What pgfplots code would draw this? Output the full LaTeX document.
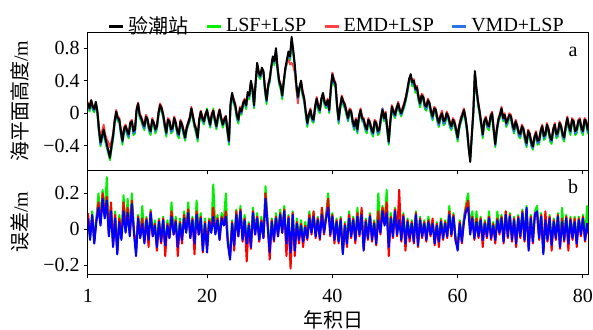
\documentclass[border=0pt]{standalone}
\usepackage{fontspec}
\setmainfont{Liberation Serif}
\newfontfamily\cjk{Noto Sans CJK SC}
\usepackage{pgfplots}
\usepackage{pgfplotstable}
\pgfplotsset{compat=1.18}

\definecolor{lsfgreen}{rgb}{0.0,0.95,0.0}
\definecolor{emdred}{rgb}{1.0,0.25,0.25}
\definecolor{vmdblue}{rgb}{0.18,0.45,0.90}
\definecolor{errred}{rgb}{1.0,0.0,0.0}
\definecolor{errblue}{rgb}{0.0,0.0,1.0}

% observed sea level and the three reconstructions (m), quarter-day steps
\pgfplotstableread{
d obs lsf emd vmd
1.00 0.12 0.09 0.14 0.10
1.25 0.06 0.02 0.08 0.04
1.50 0.16 0.13 0.16 0.15
1.75 0.08 0.04 0.10 0.06
2.00 0.05 0.01 0.07 0.03
2.25 0.14 0.11 0.13 0.12
2.50 0.02 -0.02 0.04 0.00
2.75 -0.20 -0.25 -0.16 -0.23
3.00 -0.36 -0.41 -0.32 -0.39
3.25 -0.28 -0.32 -0.22 -0.31
3.50 -0.20 -0.24 -0.14 -0.22
3.75 -0.30 -0.35 -0.26 -0.33
4.00 -0.38 -0.43 -0.32 -0.41
4.25 -0.46 -0.50 -0.36 -0.48
4.50 -0.55 -0.58 -0.42 -0.53
4.75 -0.40 -0.45 -0.34 -0.43
5.00 -0.28 -0.33 -0.25 -0.31
5.25 -0.10 -0.14 -0.08 -0.12
5.50 0.02 -0.01 0.04 0.00
5.75 -0.06 -0.10 -0.04 -0.08
6.00 -0.08 -0.12 -0.06 -0.10
6.25 -0.22 -0.27 -0.20 -0.25
6.50 -0.34 -0.39 -0.32 -0.36
6.75 -0.20 -0.24 -0.17 -0.22
7.00 -0.16 -0.20 -0.14 -0.18
7.25 -0.22 -0.27 -0.20 -0.25
7.50 -0.26 -0.31 -0.24 -0.29
7.75 -0.12 -0.16 -0.10 -0.14
8.00 -0.10 -0.13 -0.08 -0.11
8.25 -0.22 -0.27 -0.20 -0.25
8.50 -0.20 -0.25 -0.18 -0.23
8.75 0.04 0.00 0.06 0.02
9.00 0.12 0.09 0.13 0.10
9.25 -0.02 -0.06 0.00 -0.04
9.50 -0.06 -0.10 -0.04 -0.08
9.75 -0.12 -0.17 -0.10 -0.15
10.00 -0.16 -0.21 -0.15 -0.19
10.25 -0.04 -0.08 -0.02 -0.06
10.50 -0.08 -0.11 -0.06 -0.10
10.75 -0.18 -0.23 -0.16 -0.21
11.00 -0.22 -0.27 -0.20 -0.24
11.25 -0.08 -0.12 -0.06 -0.10
11.50 -0.12 -0.15 -0.11 -0.13
11.75 -0.20 -0.25 -0.18 -0.22
12.00 -0.16 -0.20 -0.14 -0.18
12.25 0.00 -0.04 0.02 -0.02
12.50 0.10 0.07 0.12 0.08
12.75 0.06 0.02 0.08 0.04
13.00 -0.02 -0.06 0.00 -0.04
13.25 -0.14 -0.19 -0.12 -0.17
13.50 -0.24 -0.29 -0.22 -0.26
13.75 -0.08 -0.12 -0.06 -0.10
14.00 -0.10 -0.13 -0.08 -0.12
14.25 -0.20 -0.25 -0.18 -0.23
14.50 -0.18 -0.23 -0.16 -0.21
14.75 -0.06 -0.10 -0.04 -0.08
15.00 -0.12 -0.15 -0.10 -0.13
15.25 -0.22 -0.27 -0.20 -0.25
15.50 -0.26 -0.31 -0.24 -0.28
15.75 -0.10 -0.14 -0.08 -0.12
16.00 -0.14 -0.17 -0.12 -0.16
16.25 -0.22 -0.27 -0.20 -0.25
16.50 -0.30 -0.34 -0.27 -0.31
16.75 -0.18 -0.22 -0.16 -0.20
17.00 -0.12 -0.15 -0.10 -0.14
17.25 -0.06 -0.10 -0.04 -0.08
17.50 0.06 0.03 0.08 0.05
17.75 -0.04 -0.08 -0.02 -0.06
18.00 -0.14 -0.18 -0.12 -0.16
18.25 -0.20 -0.25 -0.18 -0.23
18.50 -0.30 -0.35 -0.28 -0.32
18.75 -0.08 -0.12 -0.06 -0.10
19.00 0.02 -0.02 0.03 0.00
19.25 -0.06 -0.10 -0.04 -0.08
19.50 -0.10 -0.14 -0.08 -0.12
19.75 -0.02 -0.06 0.00 -0.04
20.00 0.04 0.06 0.02 0.03
20.25 -0.06 -0.10 -0.04 -0.08
20.50 -0.14 -0.18 -0.12 -0.16
20.75 -0.02 -0.06 0.00 -0.04
21.00 0.03 0.06 0.04 0.01
21.25 -0.08 -0.12 -0.06 -0.10
21.50 -0.16 -0.20 -0.14 -0.18
21.75 -0.04 -0.08 -0.02 -0.06
22.00 0.04 0.01 0.05 0.02
22.25 -0.06 -0.10 -0.04 -0.08
22.50 -0.14 -0.18 -0.12 -0.15
22.75 -0.08 -0.12 -0.06 -0.10
23.00 -0.04 -0.08 -0.03 -0.06
23.25 -0.20 -0.25 -0.18 -0.23
23.50 -0.34 -0.39 -0.31 -0.36
23.75 0.12 0.07 0.10 0.09
24.00 0.25 0.20 0.23 0.22
24.25 0.16 0.12 0.18 0.14
24.50 0.10 0.06 0.12 0.08
24.75 -0.02 -0.07 0.00 -0.05
25.00 -0.08 -0.13 -0.06 -0.10
25.25 0.06 0.02 0.08 0.04
25.50 0.02 -0.02 0.04 0.00
25.75 0.12 0.08 0.14 0.10
26.00 0.16 0.12 0.18 0.14
26.25 0.10 0.05 0.12 0.08
26.50 0.26 0.22 0.24 0.24
26.75 0.22 0.17 0.24 0.20
27.00 0.40 0.36 0.38 0.38
27.25 0.30 0.25 0.32 0.28
27.50 0.10 0.06 0.13 0.08
27.75 0.38 0.33 0.36 0.36
28.00 0.62 0.58 0.60 0.60
28.25 0.50 0.45 0.52 0.48
28.50 0.46 0.42 0.48 0.44
28.75 0.56 0.52 0.54 0.54
29.00 0.52 0.48 0.50 0.50
29.25 0.30 0.25 0.32 0.28
29.50 0.16 0.11 0.18 0.14
29.75 0.34 0.30 0.36 0.32
30.00 0.42 0.38 0.44 0.40
30.25 0.58 0.54 0.56 0.56
30.50 0.70 0.66 0.68 0.68
30.75 0.64 0.59 0.66 0.62
31.00 0.80 0.76 0.76 0.78
31.25 0.56 0.51 0.58 0.54
31.50 0.40 0.35 0.42 0.38
31.75 0.34 0.29 0.36 0.32
32.00 0.22 0.17 0.24 0.20
32.25 0.40 0.36 0.40 0.38
32.50 0.56 0.52 0.54 0.54
32.75 0.66 0.62 0.62 0.64
33.00 0.76 0.72 0.66 0.74
33.25 0.70 0.65 0.60 0.68
33.50 0.94 0.88 0.62 0.90
33.75 0.78 0.73 0.58 0.76
34.00 0.60 0.56 0.50 0.58
34.25 0.36 0.31 0.30 0.34
34.50 0.20 0.16 0.12 0.18
34.75 0.32 0.28 0.30 0.30
35.00 0.40 0.36 0.40 0.38
35.25 0.26 0.21 0.28 0.24
35.50 0.18 0.14 0.20 0.16
35.75 0.02 -0.03 0.04 0.00
36.00 -0.12 -0.17 -0.10 -0.14
36.25 -0.02 -0.06 0.00 -0.04
36.50 0.04 0.00 0.06 0.02
36.75 -0.06 -0.10 -0.04 -0.08
37.00 -0.08 -0.12 -0.06 -0.10
37.25 0.08 0.04 0.10 0.06
37.50 0.18 0.14 0.20 0.16
37.75 0.08 0.03 0.10 0.06
38.00 0.04 0.00 0.06 0.02
38.25 0.18 0.14 0.18 0.16
38.50 0.25 0.21 0.23 0.23
38.75 0.14 0.09 0.16 0.12
39.00 0.10 0.06 0.12 0.08
39.25 0.16 0.12 0.18 0.14
39.50 0.04 0.00 0.06 0.02
39.75 0.30 0.26 0.32 0.28
40.00 0.48 0.44 0.50 0.46
40.25 0.40 0.35 0.42 0.38
40.50 0.36 0.32 0.38 0.34
40.75 0.10 0.05 0.12 0.08
41.00 -0.08 -0.13 -0.06 -0.11
41.25 0.08 0.04 0.10 0.06
41.50 0.20 0.16 0.22 0.18
41.75 0.14 0.09 0.16 0.12
42.00 0.10 0.06 0.12 0.07
42.25 0.02 -0.03 0.04 0.00
42.50 -0.06 -0.10 -0.04 -0.09
42.75 0.04 0.00 0.06 0.02
43.00 0.02 -0.02 0.04 0.00
43.25 -0.10 -0.15 -0.08 -0.13
43.50 -0.16 -0.21 -0.14 -0.19
43.75 -0.08 -0.12 -0.06 -0.10
44.00 -0.20 -0.25 -0.18 -0.23
44.25 -0.04 -0.08 -0.02 -0.06
44.50 0.04 0.00 0.06 0.02
44.75 -0.06 -0.10 -0.04 -0.08
45.00 -0.08 -0.12 -0.06 -0.11
45.25 -0.16 -0.21 -0.14 -0.19
45.50 -0.20 -0.25 -0.18 -0.22
45.75 -0.08 -0.12 -0.06 -0.10
46.00 -0.12 -0.16 -0.10 -0.14
46.25 -0.20 -0.25 -0.18 -0.23
46.50 -0.24 -0.29 -0.22 -0.26
46.75 -0.10 -0.14 -0.08 -0.12
47.00 -0.12 -0.16 -0.10 -0.14
47.25 -0.22 -0.27 -0.20 -0.25
47.50 -0.20 -0.25 -0.18 -0.22
47.75 -0.06 -0.10 -0.04 -0.08
48.00 0.04 0.00 0.06 0.06
48.25 -0.06 -0.10 -0.04 -0.08
48.50 0.00 -0.04 0.02 -0.02
48.75 -0.18 -0.23 -0.16 -0.21
49.00 -0.35 -0.39 -0.32 -0.37
49.25 -0.10 -0.14 -0.08 -0.12
49.50 0.08 0.04 0.10 0.06
49.75 0.02 -0.02 0.04 0.00
50.00 -0.02 -0.06 0.00 -0.04
50.25 0.06 0.02 0.08 0.04
50.50 0.12 0.08 0.14 0.10
50.75 0.04 0.00 0.06 0.02
51.00 0.00 -0.04 0.02 -0.02
51.25 0.06 0.02 0.08 0.04
51.50 0.12 0.08 0.14 0.10
51.75 0.20 0.16 0.22 0.18
52.00 0.30 0.26 0.32 0.28
52.25 0.42 0.38 0.42 0.40
52.50 0.48 0.44 0.46 0.46
52.75 0.38 0.33 0.40 0.36
53.00 0.40 0.36 0.42 0.38
53.25 0.30 0.25 0.32 0.28
53.50 0.32 0.27 0.34 0.30
53.75 0.20 0.15 0.22 0.18
54.00 0.12 0.07 0.14 0.10
54.25 0.22 0.18 0.24 0.20
54.50 0.20 0.16 0.22 0.18
54.75 0.10 0.05 0.12 0.08
55.00 0.08 0.03 0.10 0.05
55.25 0.16 0.12 0.18 0.14
55.50 0.12 0.08 0.14 0.10
55.75 0.02 -0.03 0.04 0.00
56.00 -0.04 -0.09 -0.02 -0.07
56.25 0.06 0.02 0.08 0.04
56.50 0.04 0.00 0.06 0.02
56.75 -0.06 -0.11 -0.04 -0.09
57.00 -0.12 -0.17 -0.10 -0.15
57.25 -0.04 -0.08 -0.02 -0.06
57.50 0.00 -0.04 0.03 -0.02
57.75 -0.10 -0.15 -0.08 -0.13
58.00 -0.08 -0.13 -0.06 -0.11
58.25 0.00 -0.04 0.02 -0.02
58.50 -0.04 -0.08 -0.02 -0.06
58.75 -0.12 -0.17 -0.10 -0.15
59.00 -0.16 -0.21 -0.14 -0.19
59.25 -0.08 -0.12 -0.06 -0.10
59.50 -0.12 -0.16 -0.09 -0.14
59.75 -0.20 -0.25 -0.18 -0.23
60.00 -0.30 -0.35 -0.27 -0.32
60.25 -0.16 -0.20 -0.13 -0.18
60.50 -0.08 -0.12 -0.05 -0.10
60.75 -0.02 -0.06 0.00 -0.04
61.00 0.04 0.00 0.06 0.02
61.25 -0.06 -0.10 -0.04 -0.08
61.50 -0.20 -0.24 -0.18 -0.22
61.75 -0.42 -0.44 -0.40 -0.42
62.00 -0.60 -0.57 -0.55 -0.57
62.25 -0.28 -0.30 -0.26 -0.28
62.50 0.02 -0.02 0.04 0.00
62.75 0.52 0.47 0.49 0.49
63.00 0.30 0.25 0.30 0.28
63.25 0.14 0.09 0.16 0.12
63.50 0.02 -0.02 0.04 0.00
63.75 -0.12 -0.17 -0.10 -0.14
64.00 -0.26 -0.31 -0.24 -0.28
64.25 -0.10 -0.14 -0.08 -0.12
64.50 -0.06 -0.10 -0.04 -0.08
64.75 -0.14 -0.19 -0.12 -0.17
65.00 -0.16 -0.21 -0.14 -0.18
65.25 -0.04 -0.08 -0.02 -0.06
65.50 0.00 -0.04 0.02 -0.02
65.75 -0.20 -0.25 -0.18 -0.22
66.00 -0.38 -0.42 -0.35 -0.40
66.25 -0.20 -0.24 -0.18 -0.22
66.50 -0.08 -0.12 -0.06 -0.10
66.75 -0.02 -0.06 0.00 -0.04
67.00 0.06 0.02 0.08 0.04
67.25 -0.06 -0.10 -0.04 -0.08
67.50 -0.02 -0.06 0.00 -0.04
67.75 -0.12 -0.17 -0.10 -0.15
68.00 -0.08 -0.13 -0.06 -0.10
68.25 -0.02 -0.06 0.00 -0.04
68.50 -0.04 -0.08 -0.02 -0.06
68.75 -0.14 -0.19 -0.12 -0.17
69.00 -0.20 -0.25 -0.18 -0.23
69.25 -0.10 -0.14 -0.08 -0.12
69.50 -0.16 -0.20 -0.14 -0.18
69.75 -0.24 -0.29 -0.22 -0.27
70.00 -0.26 -0.31 -0.24 -0.29
70.25 -0.16 -0.20 -0.14 -0.18
70.50 -0.20 -0.24 -0.18 -0.22
70.75 -0.30 -0.35 -0.28 -0.33
71.00 -0.37 -0.42 -0.35 -0.40
71.25 -0.22 -0.26 -0.20 -0.24
71.50 -0.26 -0.30 -0.24 -0.28
71.75 -0.36 -0.41 -0.34 -0.39
72.00 -0.41 -0.45 -0.38 -0.43
72.25 -0.30 -0.34 -0.28 -0.32
72.50 -0.24 -0.28 -0.22 -0.26
72.75 -0.34 -0.39 -0.32 -0.37
73.00 -0.33 -0.38 -0.31 -0.36
73.25 -0.22 -0.26 -0.20 -0.24
73.50 -0.16 -0.20 -0.14 -0.18
73.75 -0.28 -0.33 -0.26 -0.31
74.00 -0.26 -0.31 -0.24 -0.28
74.25 -0.14 -0.18 -0.12 -0.16
74.50 -0.20 -0.24 -0.18 -0.22
74.75 -0.30 -0.35 -0.28 -0.33
75.00 -0.33 -0.38 -0.31 -0.35
75.25 -0.20 -0.24 -0.18 -0.22
75.50 -0.14 -0.18 -0.12 -0.16
75.75 -0.26 -0.31 -0.24 -0.29
76.00 -0.24 -0.29 -0.22 -0.26
76.25 -0.12 -0.16 -0.10 -0.14
76.50 -0.16 -0.20 -0.14 -0.18
76.75 -0.26 -0.31 -0.24 -0.29
77.00 -0.30 -0.35 -0.28 -0.32
77.25 -0.16 -0.20 -0.14 -0.18
77.50 -0.06 -0.10 -0.04 -0.08
77.75 -0.16 -0.21 -0.14 -0.19
78.00 -0.22 -0.27 -0.20 -0.24
78.25 -0.08 -0.12 -0.06 -0.10
78.50 -0.10 -0.14 -0.08 -0.12
78.75 -0.22 -0.27 -0.20 -0.25
79.00 -0.20 -0.25 -0.18 -0.22
79.25 -0.10 -0.14 -0.08 -0.12
79.50 -0.08 -0.12 -0.06 -0.10
79.75 -0.18 -0.23 -0.16 -0.21
80.00 -0.22 -0.27 -0.20 -0.24
80.25 -0.08 -0.12 -0.06 -0.10
80.50 -0.10 -0.14 -0.08 -0.12
80.75 -0.20 -0.25 -0.18 -0.23
81.00 -0.14 -0.18 -0.12 -0.16
}\sealevel

% reconstruction errors (m), steps of a third of a day
\pgfplotstableread{
d elsf eemd evmd
1.00 0.07 0.09 0.06
1.33 -0.05 -0.04 -0.06
1.67 0.10 0.07 0.08
2.00 -0.06 -0.07 -0.08
2.33 0.06 0.05 0.04
2.67 0.20 0.15 0.12
3.00 0.05 0.03 0.02
3.33 0.22 0.20 0.17
3.67 0.08 0.07 0.06
4.00 0.29 0.18 0.16
4.33 -0.02 -0.03 -0.04
4.67 0.13 0.15 0.10
5.00 -0.08 -0.09 -0.10
5.33 0.10 0.08 0.06
5.67 -0.12 -0.13 -0.14
6.00 0.08 0.06 0.04
6.33 -0.04 -0.05 -0.06
6.67 0.19 0.15 0.10
7.00 0.01 -0.01 -0.02
7.33 0.17 0.12 0.09
7.67 -0.02 -0.03 -0.04
8.00 0.20 0.16 0.14
8.33 0.00 -0.01 -0.02
8.67 -0.13 -0.12 -0.15
9.00 0.08 0.07 0.06
9.33 -0.04 -0.04 -0.05
9.67 0.13 0.06 0.03
10.00 -0.06 -0.07 -0.08
10.33 0.07 0.06 0.05
10.67 -0.05 -0.10 -0.06
11.00 0.11 0.10 0.09
11.33 -0.03 -0.04 -0.04
11.67 0.05 0.03 0.02
12.00 -0.08 -0.12 -0.10
12.33 0.06 0.05 0.04
12.67 -0.06 -0.08 -0.07
13.00 0.07 0.06 0.05
13.33 -0.10 -0.15 -0.09
13.67 0.05 0.03 0.02
14.00 -0.04 -0.05 -0.05
14.33 0.15 0.10 0.07
14.67 -0.01 -0.03 -0.03
15.00 0.07 0.05 0.04
15.33 -0.08 -0.15 -0.10
15.67 0.06 0.04 0.03
16.00 -0.05 -0.08 -0.06
16.33 0.10 0.08 0.06
16.67 0.00 -0.01 -0.02
17.00 0.15 0.11 0.09
17.33 -0.03 -0.05 -0.05
17.67 0.07 0.06 0.05
18.00 -0.06 -0.14 -0.08
18.33 0.16 0.10 0.08
18.67 -0.01 -0.03 -0.03
19.00 0.09 0.07 0.06
19.33 -0.10 -0.13 -0.12
19.67 0.06 0.04 0.03
20.00 -0.11 -0.10 -0.13
20.33 0.06 0.05 0.04
20.67 0.00 -0.01 -0.02
21.00 0.25 0.12 0.07
21.33 0.00 -0.02 -0.03
21.67 0.08 0.06 0.05
22.00 -0.04 -0.06 -0.06
22.33 0.09 0.07 0.06
22.67 0.05 0.03 0.02
23.00 0.20 0.10 0.07
23.33 -0.06 -0.08 -0.08
23.67 -0.15 -0.16 -0.17
24.00 0.05 0.04 0.03
24.33 -0.07 -0.12 -0.09
24.67 0.11 0.10 0.08
25.00 -0.02 -0.04 -0.04
25.33 0.13 0.11 0.10
25.67 -0.04 -0.07 -0.06
26.00 0.08 0.06 0.05
26.33 -0.06 -0.18 -0.08
26.67 0.04 0.03 0.02
27.00 -0.08 -0.11 -0.10
27.33 0.12 0.10 0.09
27.67 -0.01 -0.03 -0.03
28.00 0.09 0.07 0.06
28.33 -0.04 -0.07 -0.06
28.67 0.07 0.05 0.04
29.00 -0.03 -0.05 -0.05
29.33 0.24 0.20 0.17
29.67 0.05 0.03 0.02
30.00 -0.11 -0.17 -0.13
30.33 0.06 0.05 0.04
30.67 -0.04 -0.07 -0.06
31.00 0.09 0.07 0.06
31.33 -0.02 -0.04 -0.04
31.67 0.11 0.09 0.08
32.00 0.00 -0.02 -0.02
32.33 0.13 0.11 0.10
32.67 -0.10 -0.15 -0.08
33.00 0.08 0.07 0.06
33.33 -0.20 -0.22 -0.13
33.67 0.10 0.09 0.08
34.00 -0.10 -0.15 -0.12
34.33 0.06 0.04 0.03
34.67 -0.04 -0.08 -0.06
35.00 0.05 0.03 0.02
35.33 -0.05 -0.10 -0.07
35.67 0.04 0.02 0.01
36.00 -0.03 -0.06 -0.05
36.33 0.10 0.08 0.06
36.67 0.00 -0.03 -0.02
37.00 0.09 0.10 0.07
37.33 -0.02 -0.05 -0.04
37.67 0.07 0.06 0.05
38.00 -0.03 -0.06 -0.05
38.33 0.12 0.12 0.08
38.67 0.00 -0.03 -0.02
39.00 0.08 0.07 0.06
39.33 0.20 0.17 0.12
39.67 -0.01 -0.04 -0.03
40.00 0.09 0.08 0.07
40.33 -0.04 -0.08 -0.06
40.67 0.06 0.05 0.04
41.00 -0.05 -0.08 -0.07
41.33 0.07 0.06 0.05
41.67 -0.12 -0.13 -0.14
42.00 0.04 0.03 0.02
42.33 -0.06 -0.10 -0.08
42.67 0.10 0.08 0.06
43.00 -0.02 -0.05 -0.04
43.33 0.07 0.06 0.05
43.67 -0.04 -0.08 -0.06
44.00 0.12 0.09 0.07
44.33 -0.01 -0.04 -0.03
44.67 0.10 0.12 0.08
45.00 -0.10 -0.11 -0.12
45.33 0.06 0.05 0.04
45.67 -0.03 -0.06 -0.05
46.00 0.09 0.08 0.07
46.33 -0.04 -0.07 -0.06
46.67 0.05 0.04 0.03
47.00 -0.06 -0.09 -0.08
47.33 0.20 0.10 0.05
47.67 0.00 -0.03 -0.02
48.00 0.13 0.12 0.10
48.33 0.04 0.03 0.02
48.67 0.22 0.15 0.09
49.00 -0.08 -0.15 -0.10
49.33 0.09 0.07 0.06
49.67 -0.02 -0.05 -0.04
50.00 0.12 0.11 0.10
50.33 -0.01 -0.04 -0.03
50.67 0.07 0.22 0.05
51.00 -0.04 -0.07 -0.06
51.33 0.09 0.08 0.07
51.67 -0.06 -0.12 -0.08
52.00 0.06 0.05 0.04
52.33 -0.03 -0.07 -0.05
52.67 0.05 0.04 0.03
53.00 -0.05 -0.08 -0.07
53.33 0.10 0.09 0.08
53.67 -0.07 -0.10 -0.09
54.00 0.07 0.06 0.05
54.33 -0.02 -0.05 -0.04
54.67 0.05 0.04 0.03
55.00 -0.04 -0.07 -0.06
55.33 0.07 0.05 0.04
55.67 -0.01 -0.04 -0.03
56.00 0.05 0.06 0.03
56.33 -0.06 -0.09 -0.08
56.67 0.04 0.03 0.02
57.00 -0.05 -0.10 -0.07
57.33 0.06 0.05 0.04
57.67 -0.03 -0.06 -0.05
58.00 0.05 0.04 0.03
58.33 -0.02 -0.05 -0.04
58.67 0.13 0.10 0.08
59.00 -0.01 -0.04 -0.03
59.33 0.09 0.08 0.07
59.67 -0.04 -0.07 -0.06
60.00 -0.10 -0.10 -0.12
60.33 0.05 0.04 0.03
60.67 -0.05 -0.08 -0.07
61.00 0.07 0.05 0.04
61.33 0.14 0.12 0.10
61.67 0.20 0.16 0.12
62.00 0.00 -0.02 -0.03
62.33 0.10 0.07 0.06
62.67 -0.03 -0.06 -0.05
63.00 0.10 0.06 0.04
63.33 -0.02 -0.05 -0.04
63.67 0.07 0.06 0.05
64.00 -0.04 -0.10 -0.06
64.33 0.05 0.04 0.03
64.67 -0.02 -0.05 -0.04
65.00 0.10 0.07 0.06
65.33 -0.03 -0.06 -0.05
65.67 0.04 0.03 0.02
66.00 -0.04 -0.08 -0.06
66.33 0.10 0.06 0.05
66.67 0.00 -0.03 -0.02
67.00 0.08 0.07 0.06
67.33 -0.05 -0.08 -0.07
67.67 0.10 0.10 0.08
68.00 -0.02 -0.05 -0.04
68.33 0.09 0.08 0.07
68.67 -0.04 -0.07 -0.06
69.00 0.07 0.06 0.05
69.33 -0.06 -0.10 -0.08
69.67 0.08 0.07 0.06
70.00 -0.02 -0.05 -0.04
70.33 0.11 0.10 0.09
70.67 -0.04 -0.07 -0.06
71.00 0.13 0.11 0.12
71.33 -0.10 -0.11 -0.12
71.67 0.08 0.07 0.06
72.00 -0.05 -0.08 -0.07
72.33 0.10 0.09 0.08
72.67 0.13 0.08 0.10
73.00 -0.03 -0.06 -0.05
73.33 0.09 0.08 0.07
73.67 -0.12 -0.13 -0.14
74.00 0.07 0.10 0.05
74.33 -0.04 -0.07 -0.06
74.67 0.08 0.07 0.06
75.00 -0.07 -0.12 -0.09
75.33 0.06 0.05 0.04
75.67 -0.03 -0.06 -0.05
76.00 0.09 0.08 0.07
76.33 -0.08 -0.11 -0.10
76.67 0.12 0.06 0.04
77.00 -0.04 -0.07 -0.06
77.33 0.08 0.07 0.06
77.67 -0.06 -0.12 -0.08
78.00 0.07 0.06 0.05
78.33 -0.03 -0.06 -0.05
78.67 0.07 0.06 0.04
79.00 -0.06 -0.10 -0.08
79.33 0.07 0.06 0.05
79.67 -0.01 -0.04 -0.03
80.00 0.08 0.07 0.06
80.33 -0.04 -0.07 -0.06
80.67 0.13 0.03 0.03
81.00 -0.02 -0.05 -0.04
}\residual

\begin{document}
\begin{tikzpicture}
\useasboundingbox (-44pt,-79.5pt) rectangle (252.5pt,85pt);
\pgfplotsset{
  panel/.style={
    scale only axis,
    width=250pt,
    xmin=1, xmax=80.8,
    xtick={1,20,40,60,80},
    tick align=outside,
    tick pos=left,
    major tick length=2.2pt,
    axis line style={line width=0.5pt},
    every tick/.style={black, line width=0.5pt},
    font=\fontsize{10}{12}\selectfont,
    tick label style={font=\fontsize{10}{12}\selectfont},
    yticklabel style={xshift=1.5pt},
    xticklabel style={yshift=-2pt},
    every axis y label/.style={at={(axis description cs:-0.136,0.5)}, rotate=90, anchor=center, font=\fontsize{10}{12}\selectfont},
    line join=round,
  },
}

% upper panel: sea level
\begin{axis}[panel,
  at={(0,0)}, anchor=south west,
  height=69pt,
  ymin=-0.7, ymax=1.0,
  ytick={-0.4,0,0.4,0.8},
  yticklabels={−0.4,0,0.4,0.8},
  xticklabels={},
  ylabel={{\cjk 海平面高度}/m},
  legend columns=-1,
  legend style={at={(0.5,1)}, anchor=south, yshift=-4.5pt, draw=none, fill=none,
    inner sep=0pt, font=\fontsize{10}{12}\selectfont,
    /tikz/every even column/.append style={column sep=6.5pt}},
  legend image code/.code={\draw[#1] (0pt,0pt) -- (7pt,0pt);},
]
\addlegendimage{black, line width=1.2pt}
\addlegendentry{{\cjk 验潮站}}
\addlegendimage{lsfgreen, line width=1.2pt}
\addlegendentry{LSF+LSP}
\addlegendimage{emdred, line width=1.2pt}
\addlegendentry{EMD+LSP}
\addlegendimage{vmdblue, line width=1.2pt}
\addlegendentry{VMD+LSP}
\addplot[lsfgreen, line width=0.9pt, forget plot] table[x=d, y=lsf] {\sealevel};
\addplot[emdred, line width=0.9pt, forget plot] table[x=d, y=emd] {\sealevel};
\addplot[vmdblue, line width=0.9pt, forget plot] table[x=d, y=vmd] {\sealevel};
\addplot[black, line width=1pt, forget plot] table[x=d, y=obs] {\sealevel};
\node at (rel axis cs:0.97,0.855) {a};
\end{axis}

% lower panel: errors
\begin{axis}[panel,
  at={(0,0)}, anchor=north west,
  height=52pt,
  ymin=-0.25, ymax=0.33,
  ytick={-0.2,0,0.2},
  yticklabels={−0.2,0,0.2},
  xticklabels={1,20,40,60,80},
  ylabel={{\cjk 误差}/m},
  xlabel={{\cjk 年积日}},
  every axis x label/.style={at={(axis description cs:0.49,-0.44)}, anchor=center, font=\fontsize{10}{12}\selectfont},
]
\addplot[lsfgreen, line width=1pt] table[x=d, y=elsf] {\residual};
\addplot[errred, line width=1pt] table[x=d, y=eemd] {\residual};
\addplot[errblue, line width=1pt] table[x=d, y=evmd] {\residual};
\node at (rel axis cs:0.97,0.84) {b};
\end{axis}
\end{tikzpicture}
\end{document}
